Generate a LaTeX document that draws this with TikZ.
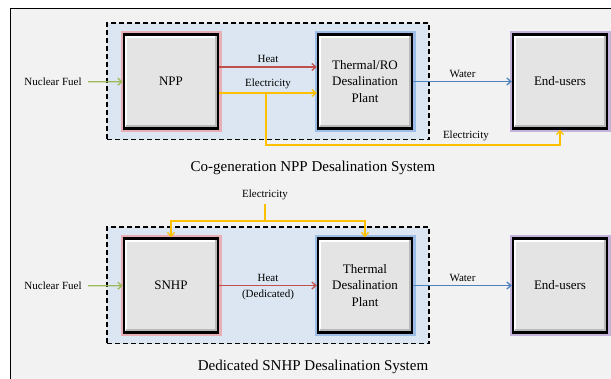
\documentclass[tikz,border=0pt]{standalone}
\usepackage{fontspec}
\setmainfont{Liberation Serif}
\usetikzlibrary{arrows.meta,positioning,fit,backgrounds}
\definecolor{PageGray}{HTML}{F2F2F2}
\definecolor{ZoneBlue}{HTML}{DCE6F2}
\definecolor{BoxGray}{HTML}{E4E4E4}
\definecolor{HeatRed}{HTML}{C0504D}
\definecolor{ElecGold}{HTML}{FFC000}
\definecolor{WaterBlue}{HTML}{4F81BD}
\definecolor{FuelGreen}{HTML}{9BBB59}
\definecolor{GlowPink}{HTML}{E8AEB5}
\definecolor{GlowBlue}{HTML}{9BBDE6}
\definecolor{GlowLilac}{HTML}{C3B3DB}

\begin{document}
\begin{tikzpicture}[x=1pt,y=-1pt,
lbl/.style={text=black,font=\fontsize{11}{13}\selectfont},
caption/.style={font=\fontsize{15}{18}\selectfont},
plant/.style={draw=black,line width=2.4pt,fill=BoxGray,minimum width=94pt,minimum height=94pt,
 align=center,font=\fontsize{13}{16.5}\selectfont,preaction={draw=#1,line width=7pt},
 path picture={
 \draw[white,line width=2.6pt] ([xshift=2pt,yshift=2pt]path picture bounding box.south west)
  |- ([xshift=-2pt,yshift=-2pt]path picture bounding box.north east);
 \draw[gray!55,line width=3pt] ([xshift=2pt,yshift=2pt]path picture bounding box.south west)
  -| ([xshift=-2pt,yshift=-2pt]path picture bounding box.north east);}},
zone/.style={draw=black,fill=ZoneBlue,line width=1.6pt,dash pattern=on 5pt off 3pt,inner xsep=16pt,inner ysep=10pt},
arr/.style={-{Straight Barb[length=4pt,width=7pt]},line width=1.3pt}]
\useasboundingbox (0,0) rectangle (611,379);
% co-generation row
\node[plant=GlowPink] (npp) at (171,81.5) {NPP};
\node[plant=GlowBlue,right=97.6pt of npp] (thermal) {Thermal/RO\\Desalination\\Plant};
\node[plant=GlowLilac,right=98.6pt of thermal] (users) {End-users};
\node[lbl] (fuel) at (53,82) {Nuclear Fuel};
\coordinate (tap) at (266,93);
\draw[arr,FuelGreen,shorten <=3pt] (fuel) -- (npp);
\draw[arr,HeatRed] ([yshift=14.5pt]npp.east) -- node[lbl,above]{Heat} ([yshift=14.5pt]thermal.west);
\draw[arr,ElecGold] ([yshift=-11.5pt]npp.east) -- node[lbl,above]{Electricity} ([yshift=-11.5pt]thermal.west);
\draw[arr,ElecGold] (tap) -- ++(0,52) -| node[lbl,above,pos=0.34]{Electricity} (users.south);
\draw[arr,WaterBlue] (thermal) -- node[lbl,above]{Water} (users);
\node[caption] (cap1) at (313,168) {Co-generation NPP Desalination System};
% dedicated row
\node[plant=GlowPink,below=107.6pt of npp] (snhp) {SNHP};
\node[plant=GlowBlue,right=97.6pt of snhp] (thermal2) {Thermal\\Desalination\\Plant};
\node[plant=GlowLilac,right=98.6pt of thermal2] (users2) {End-users};
\node[lbl] (fuel2) at (53,286) {Nuclear Fuel};
\node[lbl] (elec2) at (265,195) {Electricity};
\coordinate (split) at (265,221);
\draw[arr,FuelGreen,shorten <=3pt] (fuel2) -- (snhp);
\draw[arr,HeatRed] (snhp) -- node[lbl,above]{Heat} node[lbl,below]{(Dedicated)} (thermal2);
\draw[ElecGold,line width=1.3pt] (elec2) -- (split);
\draw[arr,ElecGold] (split) -| (snhp.north);
\draw[arr,ElecGold] (split) -| (thermal2.north);
\draw[arr,WaterBlue] (thermal2) -- node[lbl,above]{Water} (users2);
\node[caption] (cap2) at (313,367) {Dedicated SNHP Desalination System};
\begin{scope}[on background layer]
\fill[PageGray] (10,9) rectangle (615,383);
\draw[line width=1pt] (10,383) |- (615,9);
\node[zone,fit=(npp)(thermal)] (cogen) {};
\node[zone,fit=(snhp)(thermal2)] (dedicated) {};
\end{scope}
\end{tikzpicture}
\end{document}
